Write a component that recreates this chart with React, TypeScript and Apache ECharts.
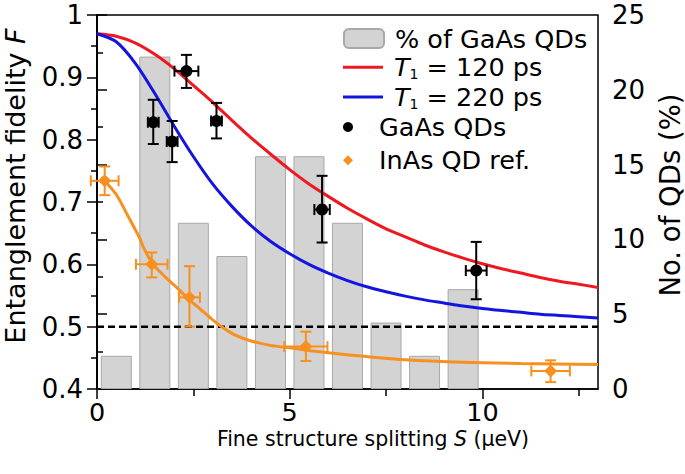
import React, { useEffect, useRef } from 'react';
import * as echarts from 'echarts';

// Histogram (right axis, % of GaAs QDs)
const histCenters = [0.5, 1.5, 2.5, 3.5, 4.5, 5.5, 6.5, 7.5, 8.5, 9.5];
const histPercent = [2.22, 22.22, 11.11, 8.89, 15.56, 15.56, 11.11, 4.44, 2.22, 6.67];

// Model curves
const fitS = [0, 0.5, 1, 1.5, 2, 2.5, 3, 3.5, 4, 4.5, 5, 5.5, 6, 6.5, 7, 7.5, 8, 8.5, 9, 9.5, 10, 10.5, 11, 11.5, 12, 12.5, 13];
const fitT120 = [0.970, 0.966, 0.955, 0.937, 0.914, 0.887, 0.860, 0.831, 0.803, 0.777, 0.752, 0.729, 0.709, 0.690, 0.673, 0.657, 0.644, 0.631, 0.620, 0.610, 0.601, 0.593, 0.586, 0.579, 0.573, 0.568, 0.563];
const fitT220 = [0.970, 0.957, 0.922, 0.874, 0.822, 0.773, 0.729, 0.693, 0.662, 0.637, 0.617, 0.600, 0.586, 0.574, 0.564, 0.556, 0.549, 0.543, 0.538, 0.533, 0.529, 0.526, 0.523, 0.520, 0.518, 0.516, 0.514];
const inasFitS = [0.1, 0.2, 0.5, 0.8, 1.1, 1.2, 1.3, 1.44, 1.6, 1.8, 2.1, 2.4, 2.7, 3.0, 3.3, 3.6, 4.0, 4.5, 5.0, 6.0, 7.0, 8.0, 9.5, 11.0, 13.0];
const inasFitF = [0.739, 0.734, 0.712, 0.678, 0.643, 0.628, 0.616, 0.601, 0.590, 0.578, 0.561, 0.543, 0.527, 0.511, 0.497, 0.486, 0.477, 0.470, 0.466, 0.458, 0.452, 0.447, 0.443, 0.441, 0.4395];

// GaAs QD measurements
const gaasS = [1.46, 1.95, 2.32, 3.10, 5.84, 9.84];
const gaasF = [0.828, 0.797, 0.910, 0.830, 0.688, 0.590];
const gaasSErr = [0.14, 0.14, 0.31, 0.14, 0.2, 0.27];
const gaasFLo = [0.793, 0.764, 0.883, 0.802, 0.635, 0.544];
const gaasFHi = [0.864, 0.830, 0.936, 0.859, 0.742, 0.636];

// InAs QD reference
const inasS = [0.2, 1.42, 2.4, 5.42, 11.77];
const inasF = [0.734, 0.600, 0.547, 0.468, 0.429];
const inasSErr = [0.36, 0.41, 0.27, 0.56, 0.5];
const inasFLo = [0.711, 0.579, 0.500, 0.445, 0.411];
const inasFHi = [0.757, 0.619, 0.597, 0.492, 0.446];

const classicalLimit = 0.5;
const xMajorTicks = [0, 5, 10];
const xMinorTicks = [2.5, 7.5, 12.5];

const FONT = 'DejaVu Sans';
const RED = '#f01820';
const BLUE = '#1414e0';
const ORANGE = '#f7901e';

const LINE_ICON = 'path://M0,0 L40,0 L40,3 L0,3 Z';
const DIAMOND_ICON = 'path://M5,0 L10,5 L5,10 L0,5 Z';

function errorBars(color: string) {
  return (params: any, api: any) => {
    const x = api.value(0), y = api.value(1);
    const xl = api.value(2), xh = api.value(3), yl = api.value(4), yh = api.value(5);
    const c = api.coord([x, y]);
    const l = api.coord([xl, y]);
    const r = api.coord([xh, y]);
    const b = api.coord([x, yl]);
    const t = api.coord([x, yh]);
    const cap = 5.5;
    const style = { stroke: color, lineWidth: 2, fill: 'none' };
    const ln = (x1: number, y1: number, x2: number, y2: number) => ({ type: 'line', shape: { x1, y1, x2, y2 }, style });
    return {
      type: 'group',
      children: [
        ln(l[0], c[1], r[0], c[1]),
        ln(l[0], c[1] - cap, l[0], c[1] + cap),
        ln(r[0], c[1] - cap, r[0], c[1] + cap),
        ln(c[0], b[1], c[0], t[1]),
        ln(c[0] - cap, b[1], c[0] + cap, b[1]),
        ln(c[0] - cap, t[1], c[0] + cap, t[1]),
      ],
    };
  };
}

export default function App() {
  const ref = useRef<HTMLDivElement>(null);
  useEffect(() => {
    if (!ref.current) return;
    const chart = echarts.init(ref.current, null, { renderer: 'svg' });
    const axisLine = { show: true, lineStyle: { color: '#000', width: 1.5 } };
    const tickStyle = { color: '#000', width: 1.5 };
    const labelStyle = { color: '#000', fontFamily: FONT, fontSize: 26 };
    const legendText = {
      color: '#000',
      fontFamily: FONT,
      fontSize: 25.5,
      lineHeight: 22,
      padding: [0, 0, 0, 6],
      rich: {
        n: { color: '#000', fontFamily: FONT, fontSize: 25.5, lineHeight: 22 },
        it: { color: '#000', fontFamily: FONT, fontSize: 25.5, lineHeight: 22, fontStyle: 'italic' },
        sub: { color: '#000', fontFamily: FONT, fontSize: 14, lineHeight: 22, padding: [14, 0, 0, 0] },
      },
    };
    const legendFormatter = (name: string) =>
      name.startsWith('T1') ? `{it|T}{sub|1}{n|${name.slice(2)}}` : `{n|${name}}`;
    const legendBase = {
      left: 343, orient: 'vertical', itemWidth: 40, itemGap: 0, padding: 0,
      selectedMode: false, symbolKeepAspect: true,
      textStyle: legendText, formatter: legendFormatter,
    };

    chart.setOption({
      animation: false,
      grid: {
        left: 97, right: 87, top: 15, bottom: 85, show: true, borderColor: '#000', borderWidth: 1.5,
        backgroundColor: 'transparent', outerBoundsMode: 'none', containLabel: false,
      },
      legend: [
        { ...legendBase, top: 25.5, itemHeight: 19, data: [{ name: '% of GaAs QDs' }] },
        { ...legendBase, top: 53.3, itemHeight: 19, data: [{ name: 'T1 = 120 ps', icon: LINE_ICON }] },
        { ...legendBase, top: 83, itemHeight: 19, data: [{ name: 'T1 = 220 ps', icon: LINE_ICON }] },
        {
          ...legendBase, top: 114, itemHeight: 10, itemGap: 7.3,
          data: [
            { name: 'GaAs QDs', icon: 'circle' },
            { name: 'InAs QD ref.', icon: DIAMOND_ICON },
          ],
        },
      ],
      graphic: [
        {
          type: 'text', x: 373, y: 438.5, silent: true,
          style: {
            text: 'Fine structure splitting {i|S} (μeV)',
            fill: '#000', fontFamily: FONT, fontSize: 20.5, lineHeight: 16, align: 'center', verticalAlign: 'middle',
            rich: { i: { fill: '#000', fontFamily: FONT, fontSize: 20.5, lineHeight: 16, fontStyle: 'italic' } },
          },
        },
        {
          type: 'text', x: 15.5, y: 186, rotation: Math.PI / 2, silent: true,
          style: {
            text: 'Entanglement fidelity {i|F}',
            fill: '#000', fontFamily: FONT, fontSize: 27, align: 'center', verticalAlign: 'middle',
            rich: { i: { fill: '#000', fontFamily: FONT, fontSize: 27, fontStyle: 'italic' } },
          },
        },
        {
          type: 'text', x: 670, y: 195, rotation: Math.PI / 2, silent: true,
          style: {
            text: 'No. of QDs (%)',
            fill: '#000', fontFamily: FONT, fontSize: 27.5, align: 'center', verticalAlign: 'middle',
          },
        },
      ],
      xAxis: [
        {
          type: 'value', min: 0, max: 13, position: 'bottom',
          axisLine, splitLine: { show: false },
          axisTick: { show: true, length: 10, lineStyle: tickStyle, customValues: xMajorTicks },
          axisLabel: { ...labelStyle, fontSize: 25.5, lineHeight: 20, margin: 13, customValues: xMajorTicks },
        },
        {
          type: 'value', min: 0, max: 13, position: 'bottom',
          axisLine: { show: false }, splitLine: { show: false },
          axisTick: { show: true, length: 7, lineStyle: tickStyle, customValues: xMinorTicks },
          axisLabel: { show: false },
        },
      ],
      yAxis: [
        {
          type: 'value', min: 0.4, max: 1, interval: 0.1, position: 'left',
          axisLine, splitLine: { show: false },
          axisTick: { show: true, length: 10, lineStyle: tickStyle },
          minorTick: { show: true, splitNumber: 2, length: 6, lineStyle: tickStyle },
          axisLabel: {
            ...labelStyle, margin: 14,
            formatter: (v: number) => (Math.abs(v - 1) < 1e-6 ? '1' : v.toFixed(1)),
          },
        },
        {
          type: 'value', min: 0, max: 25, interval: 5, position: 'right',
          axisLine, splitLine: { show: false },
          axisTick: { show: true, length: 10, lineStyle: tickStyle },
          minorTick: { show: true, splitNumber: 2, length: 6, lineStyle: tickStyle },
          axisLabel: { ...labelStyle, margin: 14 },
        },
      ],
      series: [
        {
          name: '% of GaAs QDs', type: 'bar', xAxisIndex: 0, yAxisIndex: 1, z: 1,
          barWidth: 31,
          itemStyle: { color: '#d3d3d3', borderColor: '#a8a8a8', borderWidth: 1 },
          data: histCenters.map((s, i) => [s, histPercent[i]]),
        },
        {
          name: 'limit', type: 'line', xAxisIndex: 0, yAxisIndex: 0, z: 2, symbol: 'none',
          lineStyle: { color: '#000', width: 2.5, type: [7, 4] },
          data: [[0, classicalLimit], [13, classicalLimit]],
        },
        {
          name: 'T1 = 120 ps', type: 'line', xAxisIndex: 0, yAxisIndex: 0, z: 3, symbol: 'none', smooth: 0.3,
          lineStyle: { color: RED, width: 3 }, itemStyle: { color: RED },
          data: fitS.map((s, i) => [s, fitT120[i]]),
        },
        {
          name: 'T1 = 220 ps', type: 'line', xAxisIndex: 0, yAxisIndex: 0, z: 3, symbol: 'none', smooth: 0.3,
          lineStyle: { color: BLUE, width: 3 }, itemStyle: { color: BLUE },
          data: fitS.map((s, i) => [s, fitT220[i]]),
        },
        {
          name: 'InAs fit', type: 'line', xAxisIndex: 0, yAxisIndex: 0, z: 3, symbol: 'none', smooth: 0.3,
          lineStyle: { color: ORANGE, width: 3 },
          data: inasFitS.map((s, i) => [s, inasFitF[i]]),
        },
        {
          name: 'gaasErr', type: 'custom', xAxisIndex: 0, yAxisIndex: 0, z: 4,
          renderItem: errorBars('#000'),
          encode: { x: 0, y: 1 },
          data: gaasS.map((s, i) => [s, gaasF[i], s - gaasSErr[i], s + gaasSErr[i], gaasFLo[i], gaasFHi[i]]),
        },
        {
          name: 'inasErr', type: 'custom', xAxisIndex: 0, yAxisIndex: 0, z: 4,
          renderItem: errorBars(ORANGE),
          encode: { x: 0, y: 1 },
          data: inasS.map((s, i) => [s, inasF[i], s - inasSErr[i], s + inasSErr[i], inasFLo[i], inasFHi[i]]),
        },
        {
          name: 'GaAs QDs', type: 'scatter', xAxisIndex: 0, yAxisIndex: 0, z: 5,
          symbol: 'circle', symbolSize: 12, itemStyle: { color: '#000', opacity: 1 },
          data: gaasS.map((s, i) => [s, gaasF[i]]),
        },
        {
          name: 'InAs QD ref.', type: 'scatter', xAxisIndex: 0, yAxisIndex: 0, z: 5,
          symbol: 'diamond', symbolSize: 13, itemStyle: { color: ORANGE, opacity: 1 },
          data: inasS.map((s, i) => [s, inasF[i]]),
        },
      ],
    });
    return () => chart.dispose();
  }, []);
  return <div ref={ref} style={{ position: 'absolute', left: 0, top: 0, width: 685, height: 474 }} />;
}
